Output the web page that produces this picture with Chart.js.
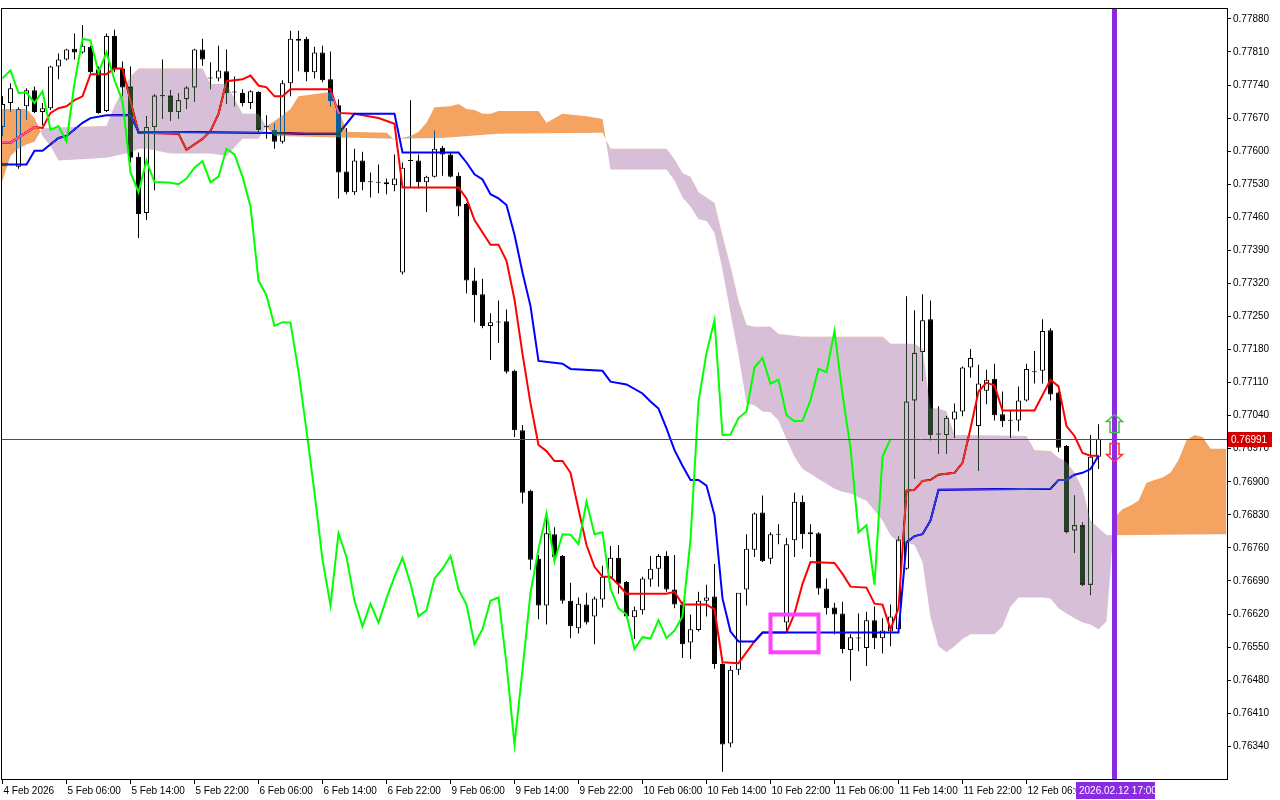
<!DOCTYPE html>
<html>
<head>
<meta charset="utf-8">
<title>H1 Ichimoku</title>
<script src="https://cdn.jsdelivr.net/npm/chart.js@4.4.1/dist/chart.umd.min.js"></script>
<style>
  html, body { margin: 0; padding: 0; background: #fff; }
  canvas { display: block; }
</style>
</head>
<body>
<canvas id="chart" width="1280" height="800"></canvas>
<script>
// H1 bars, 4 Feb 22:00 .. 12 Feb 15:00
const opens = [
  0.77651, 0.77702, 0.77567, 0.77695, 0.77729, 0.77683, 0.77691, 0.77779, 0.77794, 0.77817,
  0.77809, 0.77821, 0.77773, 0.77685, 0.77844, 0.77775, 0.77737, 0.77588, 0.77469, 0.77651,
  0.77718, 0.77718, 0.77683, 0.77710, 0.77735, 0.77815, 0.77756, 0.77754, 0.77769, 0.77725,
  0.77723, 0.77702, 0.77725, 0.77651, 0.77645, 0.77620, 0.77744, 0.77838, 0.77838, 0.77767,
  0.77809, 0.77752, 0.77697, 0.77557, 0.77513, 0.77580, 0.77536, 0.77534, 0.77534, 0.77528,
  0.77343, 0.77580, 0.77580, 0.77534, 0.77546, 0.77607, 0.77593, 0.77548, 0.77488, 0.77326,
  0.77297, 0.77230, 0.77238, 0.77240, 0.77135, 0.77009, 0.76881, 0.76737, 0.76638, 0.76789,
  0.76743, 0.76648, 0.76590, 0.76640, 0.76615, 0.76651, 0.76697, 0.76739, 0.76688, 0.76613,
  0.76628, 0.76693, 0.76716, 0.76743, 0.76672, 0.76640, 0.76560, 0.76586, 0.76648, 0.76657,
  0.76514, 0.76346, 0.76502, 0.76672, 0.76756, 0.76835, 0.76737, 0.76789, 0.76602, 0.76776,
  0.76858, 0.76789, 0.76791, 0.76674, 0.76634, 0.76621, 0.76544, 0.76569, 0.76548, 0.76607,
  0.76569, 0.76583, 0.76588, 0.76716, 0.77072, 0.77175, 0.77244, 0.77001, 0.76999, 0.77032,
  0.77049, 0.77142, 0.77018, 0.77093, 0.77118, 0.77043, 0.77030, 0.77030, 0.77072, 0.77133,
  0.77135, 0.77221, 0.77089, 0.76976, 0.76797, 0.76808, 0.76682, 0.76953
];
const highs = [
  0.77716, 0.77744, 0.77693, 0.77733, 0.77737, 0.77702, 0.77781, 0.77807, 0.77817, 0.77849,
  0.77867, 0.77823, 0.77779, 0.77849, 0.77857, 0.77790, 0.77779, 0.77597, 0.77674, 0.77721,
  0.77794, 0.77729, 0.77723, 0.77737, 0.77817, 0.77838, 0.77788, 0.77823, 0.77815, 0.77758,
  0.77731, 0.77729, 0.77727, 0.77676, 0.77658, 0.77750, 0.77855, 0.77855, 0.77842, 0.77821,
  0.77823, 0.77811, 0.77710, 0.77649, 0.77605, 0.77599, 0.77555, 0.77572, 0.77542, 0.77593,
  0.77576, 0.77708, 0.77593, 0.77548, 0.77643, 0.77611, 0.77597, 0.77555, 0.77490, 0.77353,
  0.77330, 0.77257, 0.77284, 0.77265, 0.77137, 0.77020, 0.76883, 0.76745, 0.76835, 0.76804,
  0.76745, 0.76686, 0.76655, 0.76665, 0.76657, 0.76722, 0.76764, 0.76766, 0.76690, 0.76636,
  0.76699, 0.76743, 0.76747, 0.76753, 0.76745, 0.76646, 0.76619, 0.76667, 0.76682, 0.76726,
  0.76516, 0.76510, 0.76655, 0.76789, 0.76835, 0.76871, 0.76793, 0.76810, 0.76781, 0.76877,
  0.76871, 0.76810, 0.76793, 0.76695, 0.76644, 0.76646, 0.76577, 0.76621, 0.76625, 0.76636,
  0.76611, 0.76640, 0.76785, 0.77293, 0.77263, 0.77297, 0.77284, 0.77060, 0.77039, 0.77066,
  0.77144, 0.77181, 0.77148, 0.77137, 0.77150, 0.77091, 0.77051, 0.77102, 0.77150, 0.77177,
  0.77244, 0.77225, 0.77091, 0.76978, 0.76871, 0.76814, 0.76999, 0.77022
];
const lows = [
  0.77632, 0.77683, 0.77563, 0.77666, 0.77681, 0.77655, 0.77687, 0.77752, 0.77792, 0.77794,
  0.77807, 0.77765, 0.77679, 0.77683, 0.77767, 0.77716, 0.77576, 0.77416, 0.77454, 0.77517,
  0.77668, 0.77664, 0.77668, 0.77689, 0.77704, 0.77781, 0.77731, 0.77748, 0.77700, 0.77695,
  0.77695, 0.77689, 0.77641, 0.77626, 0.77605, 0.77616, 0.77716, 0.77769, 0.77748, 0.77754,
  0.77746, 0.77695, 0.77500, 0.77509, 0.77507, 0.77517, 0.77502, 0.77511, 0.77509, 0.77515,
  0.77339, 0.77523, 0.77521, 0.77471, 0.77544, 0.77548, 0.77544, 0.77462, 0.77299, 0.77238,
  0.77225, 0.77158, 0.77194, 0.77129, 0.76995, 0.76854, 0.76714, 0.76609, 0.76598, 0.76726,
  0.76642, 0.76569, 0.76579, 0.76598, 0.76556, 0.76634, 0.76695, 0.76663, 0.76611, 0.76567,
  0.76619, 0.76678, 0.76678, 0.76667, 0.76632, 0.76527, 0.76525, 0.76583, 0.76615, 0.76504,
  0.76286, 0.76338, 0.76491, 0.76638, 0.76741, 0.76730, 0.76726, 0.76768, 0.76583, 0.76741,
  0.76758, 0.76741, 0.76661, 0.76619, 0.76577, 0.76537, 0.76479, 0.76541, 0.76510, 0.76546,
  0.76537, 0.76552, 0.76583, 0.76714, 0.76906, 0.77114, 0.76988, 0.76959, 0.76959, 0.76993,
  0.77039, 0.77120, 0.76923, 0.77064, 0.77030, 0.77016, 0.76993, 0.77007, 0.77070, 0.77108,
  0.77108, 0.77072, 0.76963, 0.76791, 0.76749, 0.76680, 0.76661, 0.76927
];
const closes = [
  0.77700, 0.77733, 0.77689, 0.77729, 0.77683, 0.77691, 0.77779, 0.77794, 0.77815, 0.77809,
  0.77823, 0.77767, 0.77681, 0.77844, 0.77773, 0.77735, 0.77586, 0.77467, 0.77651, 0.77718,
  0.77716, 0.77683, 0.77708, 0.77735, 0.77815, 0.77794, 0.77754, 0.77771, 0.77723, 0.77724,
  0.77702, 0.77727, 0.77645, 0.77653, 0.77620, 0.77744, 0.77838, 0.77834, 0.77767, 0.77809,
  0.77750, 0.77706, 0.77555, 0.77513, 0.77580, 0.77534, 0.77534, 0.77533, 0.77530, 0.77542,
  0.77565, 0.77579, 0.77534, 0.77546, 0.77605, 0.77593, 0.77546, 0.77483, 0.77326, 0.77295,
  0.77230, 0.77238, 0.77237, 0.77133, 0.77009, 0.76877, 0.76735, 0.76638, 0.76791, 0.76741,
  0.76648, 0.76594, 0.76642, 0.76602, 0.76653, 0.76699, 0.76739, 0.76684, 0.76615, 0.76628,
  0.76695, 0.76716, 0.76743, 0.76672, 0.76640, 0.76556, 0.76588, 0.76648, 0.76655, 0.76514,
  0.76344, 0.76502, 0.76665, 0.76758, 0.76833, 0.76732, 0.76789, 0.76788, 0.76768, 0.76858,
  0.76789, 0.76793, 0.76674, 0.76632, 0.76619, 0.76546, 0.76571, 0.76568, 0.76607, 0.76569,
  0.76585, 0.76615, 0.76778, 0.77070, 0.77173, 0.77242, 0.76999, 0.77000, 0.77035, 0.77049,
  0.77142, 0.77162, 0.77108, 0.77116, 0.77041, 0.77028, 0.77029, 0.77072, 0.77139, 0.77132,
  0.77219, 0.77085, 0.76972, 0.76793, 0.76808, 0.76682, 0.76953, 0.76991
];

// one label every 8 bars
const timeLabels = [
  '4 Feb 2026', '5 Feb 06:00', '5 Feb 14:00', '5 Feb 22:00', '6 Feb 06:00', '6 Feb 14:00',
  '6 Feb 22:00', '9 Feb 06:00', '9 Feb 14:00', '9 Feb 22:00', '10 Feb 06:00', '10 Feb 14:00',
  '10 Feb 22:00', '11 Feb 06:00', '11 Feb 14:00', '11 Feb 22:00', '12 Feb 06:00'
];
const priceTicks = [
  0.76340, 0.76410, 0.76480, 0.76550, 0.76620, 0.76690, 0.76760, 0.76830, 0.76900, 0.76970,
  0.77040, 0.77110, 0.77180, 0.77250, 0.77320, 0.77390, 0.77460, 0.77530, 0.77600, 0.77670,
  0.77740, 0.77810, 0.77880
];

// ichimoku lines: [bar index, price]
const tenkan = [
  [-1,0.77618],[1,0.77618],[4,0.77651],[5,0.77649],[6,0.77681],[7,0.77691],[8,0.77695],[9,0.77708],[10,0.77716],[11,0.77763],
  [13,0.77763],[14,0.77775],[15,0.77775],[16,0.77706],[17,0.77639],[22,0.77637],[23,0.77603],[25,0.77626],[26,0.77643],[27,0.77679],
  [28,0.77748],[30,0.77752],[31,0.77760],[32,0.77739],[33,0.77735],[34,0.77716],[35,0.77716],[36,0.77731],[41,0.77731],[42,0.77681],
  [44,0.77679],[47,0.77670],[49,0.77658],[50,0.77523],[57,0.77523],[58,0.77500],[59,0.77454],[61,0.77402],[62,0.77402],[63,0.77368],
  [64,0.77286],[65,0.77171],[66,0.77066],[67,0.76978],[68,0.76965],[69,0.76944],[70,0.76944],[71,0.76919],[72,0.76842],[73,0.76766],
  [74,0.76720],[75,0.76699],[76,0.76699],[77,0.76682],[78,0.76663],[83,0.76663],[84,0.76667],[85,0.76640],[88,0.76640],[89,0.76630],
  [90,0.76518],[92,0.76516],[94,0.76562],[95,0.76581],[98,0.76581],[99,0.76621],[100,0.76684],[101,0.76730],[104,0.76728],[105,0.76705],
  [106,0.76678],[108,0.76676],[109,0.76642],[110,0.76640],[111,0.76588],[112,0.76632],[113,0.76881],[114,0.76883],[115,0.76902],[116,0.76904],
  [117,0.76915],[119,0.76919],[120,0.76940],[121,0.77013],[122,0.77091],[123,0.77110],[124,0.77104],[125,0.77051],[129,0.77051],[131,0.77116],
  [132,0.77102],[133,0.77018],[134,0.76997],[135,0.76961],[136,0.76955],[137,0.76955]
];
const kijun = [
  [-1,0.77572],[3,0.77572],[4,0.77601],[5,0.77601],[7,0.77628],[8,0.77632],[10,0.77660],[11,0.77670],[13,0.77676],[16,0.77676],
  [17,0.77641],[32,0.77639],[38,0.77637],[42,0.77637],[44,0.77679],[49,0.77679],[50,0.77597],[57,0.77597],[58,0.77576],[59,0.77551],
  [60,0.77540],[61,0.77509],[62,0.77500],[63,0.77486],[64,0.77423],[65,0.77343],[66,0.77272],[67,0.77156],[70,0.77150],[71,0.77139],
  [75,0.77135],[76,0.77112],[78,0.77106],[80,0.77087],[81,0.77070],[82,0.77055],[83,0.77013],[84,0.76967],[85,0.76934],[86,0.76904],
  [87,0.76904],[88,0.76892],[89,0.76829],[90,0.76653],[91,0.76583],[92,0.76562],[94,0.76562],[95,0.76581],[112,0.76581],[113,0.76772],
  [114,0.76785],[115,0.76789],[116,0.76818],[117,0.76883],[131,0.76885],[132,0.76904],[133,0.76904],[134,0.76915],[135,0.76919],[136,0.76927],
  [137,0.76955]
];
const spanA = [
  [-1,0.77689],[3,0.77689],[4,0.77670],[5,0.77632],[6,0.77611],[7,0.77580],[13,0.77586],[16,0.77597],[17,0.77605],[18,0.77605],
  [21,0.77595],[26,0.77595],[28,0.77590],[30,0.77626],[32,0.77626],[33,0.77653],[34,0.77664],[35,0.77676],[36,0.77689],[37,0.77716],
  [41,0.77725],[42,0.77691],[43,0.77641],[48,0.77639],[49,0.77624],[51,0.77632],[52,0.77641],[53,0.77660],[54,0.77693],[56,0.77695],
  [57,0.77700],[58,0.77689],[59,0.77687],[60,0.77679],[61,0.77679],[62,0.77685],[67,0.77685],[68,0.77660],[70,0.77679],[73,0.77674],
  [75,0.77668],[76,0.77561],[83,0.77561],[84,0.77538],[85,0.77502],[86,0.77483],[87,0.77456],[88,0.77452],[89,0.77427],[90,0.77349],
  [91,0.77257],[92,0.77169],[93,0.77066],[94,0.77062],[95,0.77049],[96,0.77047],[97,0.77030],[98,0.76990],[99,0.76953],[100,0.76927],
  [101,0.76917],[102,0.76906],[103,0.76896],[104,0.76885],[105,0.76879],[106,0.76875],[107,0.76867],[108,0.76860],[109,0.76839],[110,0.76818],
  [111,0.76787],[112,0.76772],[113,0.76772],[114,0.76766],[115,0.76730],[116,0.76613],[117,0.76552],[118,0.76539],[119,0.76552],[120,0.76567],
  [121,0.76577],[124,0.76577],[125,0.76594],[126,0.76636],[127,0.76655],[130,0.76655],[131,0.76653],[132,0.76632],[133,0.76621],[134,0.76611],
  [135,0.76602],[136,0.76598],[137,0.76588],[138,0.76604],[139,0.76825],[140,0.76842],[141,0.76850],[142,0.76860],[143,0.76898],[144,0.76904],
  [145,0.76909],[146,0.76919],[147,0.76946],[148,0.76988],[149,0.76999],[150,0.76995],[151,0.76970],[153,0.76970]
];
const spanB = [
  [-1,0.77507],[0,0.77538],[1,0.77590],[2,0.77605],[3,0.77614],[4,0.77620],[5,0.77649],[13,0.77653],[14,0.77695],[15,0.77727],
  [16,0.77758],[17,0.77775],[25,0.77775],[26,0.77742],[28,0.77742],[30,0.77679],[32,0.77679],[33,0.77651],[34,0.77632],[49,0.77626],
  [55,0.77628],[62,0.77637],[75,0.77639],[76,0.77605],[83,0.77605],[84,0.77583],[85,0.77553],[86,0.77546],[87,0.77513],[88,0.77502],
  [89,0.77490],[90,0.77421],[91,0.77356],[92,0.77284],[93,0.77232],[94,0.77228],[96,0.77228],[97,0.77213],[100,0.77207],[110,0.77207],
  [111,0.77192],[114,0.77192],[115,0.77181],[116,0.77055],[117,0.77055],[118,0.77049],[119,0.76999],[128,0.76997],[129,0.76967],[131,0.76965],
  [132,0.76951],[133,0.76942],[134,0.76919],[135,0.76885],[136,0.76818],[137,0.76802],[138,0.76787],[153,0.76789]
];

const barsPerLabel = 8;
const marker = { index: 139, label: '2026.02.12 17:00' };
const box = { from: 96, to: 102, high: 0.76619, low: 0.76539 };

const idx = closes.map((_, i) => i);
const wickData = idx.map(i => ({ x: i, y: [lows[i], highs[i]] }));
const bodyData = idx.map(i => ({ x: i, y: [opens[i], closes[i]] }));
const bodyFill = idx.map(i => (closes[i] >= opens[i] ? '#ffffff' : '#000000'));
// chikou = close plotted 26 bars back
const chikou = closes.slice(26).map((c, j) => [j, c]);

const SPAN_B = 4, SPAN_A = 5;
const axisFont = { family: 'Liberation Sans', size: 10 };

const paper = {
  id: 'paper',
  beforeDraw(chart) {
    const ctx = chart.ctx;
    ctx.save();
    ctx.fillStyle = '#ffffff';
    ctx.fillRect(0, 0, chart.width, chart.height);
    ctx.restore();
  }
};

// the terminal paints the kumo inverted over what is already there
const kumoBlend = {
  id: 'kumoBlend',
  afterDatasetDraw(chart, args) {
    if (args.index === SPAN_B) chart.ctx.globalCompositeOperation = 'difference';
    if (args.index === SPAN_A) chart.ctx.globalCompositeOperation = 'source-over';
  }
};

function arrowPath(ctx, cx, tipY, baseY, endY, hw, sw) {
  ctx.beginPath();
  ctx.moveTo(cx, tipY);
  ctx.lineTo(cx + hw, baseY);
  ctx.lineTo(cx + sw, baseY);
  ctx.lineTo(cx + sw, endY);
  ctx.lineTo(cx - sw, endY);
  ctx.lineTo(cx - sw, baseY);
  ctx.lineTo(cx - hw, baseY);
  ctx.closePath();
}

const overlay = {
  id: 'overlay',
  afterDraw(chart) {
    const { ctx, chartArea: a, scales: { x, y } } = chart;
    const last = closes[closes.length - 1];
    const py = Math.round(y.getPixelForValue(last)) + 0.5;
    const mx = x.getPixelForValue(marker.index);

    ctx.save();
    ctx.beginPath();
    ctx.rect(a.left, a.top, a.right - a.left, a.bottom - a.top);
    ctx.clip();

    // bid line
    ctx.strokeStyle = 'rgb(170,40,40)';
    ctx.lineWidth = 1;
    ctx.beginPath();
    ctx.moveTo(a.left, py);
    ctx.lineTo(a.right, py);
    ctx.stroke();

    // rectangle object
    const bx0 = x.getPixelForValue(box.from), bx1 = x.getPixelForValue(box.to);
    const by0 = y.getPixelForValue(box.high), by1 = y.getPixelForValue(box.low);
    ctx.strokeStyle = '#ff40ff';
    ctx.lineWidth = 4;
    ctx.strokeRect(bx0, by0, bx1 - bx0, by1 - by0);

    // vertical line
    ctx.fillStyle = '#8a2be2';
    ctx.fillRect(Math.floor(mx) - 2, a.top, 5, a.bottom - a.top);

    // buy / sell arrows
    ctx.lineWidth = 1.5;
    arrowPath(ctx, mx, py - 25, py - 18, py - 7, 8, 4.5);
    ctx.strokeStyle = '#40c040';
    ctx.stroke();
    arrowPath(ctx, mx, py + 22, py + 15, py + 4, 8, 4.5);
    ctx.strokeStyle = '#ff3030';
    ctx.stroke();
    ctx.restore();

    // frame
    ctx.save();
    ctx.strokeStyle = '#000';
    ctx.lineWidth = 1;
    ctx.strokeRect(a.left + 0.5, a.top + 0.5, a.right - a.left, a.bottom - a.top);

    // price tag
    ctx.font = '10px "Liberation Sans"';
    ctx.textBaseline = 'middle';
    ctx.fillStyle = '#d00000';
    ctx.fillRect(a.right + 1, py - 7.5, 44, 15);
    ctx.fillStyle = '#ffffff';
    ctx.fillText(last.toFixed(5), a.right + 4, py + 0.5);

    // time tag
    ctx.fillStyle = '#8a2be2';
    ctx.fillRect(Math.floor(mx) - 38, a.bottom + 3, 79, 17);
    ctx.fillStyle = '#ffffff';
    ctx.fillText(marker.label, Math.floor(mx) - 35, a.bottom + 12);
    ctx.restore();
  }
};

new Chart(document.getElementById('chart'), {
  data: {
    datasets: [
      { type: 'bar', label: 'wick', data: wickData, backgroundColor: '#000000', borderWidth: 0,
        barThickness: 1, grouped: false, inflateAmount: 0, order: 7 },
      { type: 'bar', label: 'body', data: bodyData, backgroundColor: bodyFill, borderColor: '#000000',
        borderWidth: 1, borderSkipped: false, barThickness: 5, minBarLength: 1, grouped: false,
        inflateAmount: 0, order: 6 },
      { type: 'line', label: 'Tenkan-sen', data: tenkan, borderColor: '#ff0000', borderWidth: 2,
        pointRadius: 0, tension: 0, fill: false, order: 5 },
      { type: 'line', label: 'Kijun-sen', data: kijun, borderColor: '#0000ff', borderWidth: 2,
        pointRadius: 0, tension: 0, fill: false, order: 4 },
      { type: 'line', label: 'Senkou Span B', data: spanB, borderColor: 'rgba(0,0,0,0)', borderWidth: 1,
        pointRadius: 0, tension: 0, fill: false, order: 3 },
      { type: 'line', label: 'Senkou Span A', data: spanA, borderColor: 'rgba(0,0,0,0)', borderWidth: 1,
        pointRadius: 0, tension: 0, order: 2,
        // inverted SandyBrown / Thistle, see kumoBlend
        fill: { target: SPAN_B, above: 'rgb(11,91,159)', below: 'rgb(39,64,39)' } },
      { type: 'line', label: 'Chikou Span', data: chikou, borderColor: '#00ff00', borderWidth: 2,
        pointRadius: 0, tension: 0, fill: false, order: 1 }
    ]
  },
  options: {
    responsive: false,
    devicePixelRatio: 1,
    animation: false,
    events: [],
    layout: { padding: { top: 1, left: 1, right: 0, bottom: 0 } },
    plugins: { legend: { display: false }, tooltip: { enabled: false } },
    scales: {
      x: {
        type: 'linear', position: 'bottom', offset: false,
        min: -0.1875, max: 153.0625,
        grid: { drawOnChartArea: false, drawTicks: true, tickLength: 5, color: '#000', offset: false },
        border: { display: true, color: '#000' },
        ticks: {
          autoSkip: false, maxRotation: 0, minRotation: 0, align: 'start', labelOffset: 1, padding: 1,
          color: '#000', font: axisFont,
          callback: (v, k) => timeLabels[k]
        },
        afterBuildTicks: s => { s.ticks = timeLabels.map((_, k) => ({ value: k * barsPerLabel })); },
        afterFit: s => { s.height = 21; }
      },
      y: {
        type: 'linear', position: 'right', beginAtZero: false,
        min: 0.76270758, max: 0.77903079,
        grid: { drawOnChartArea: false, drawTicks: true, tickLength: 4, color: '#000' },
        border: { display: true, color: '#000' },
        ticks: { color: '#000', font: axisFont, padding: 2, callback: v => v.toFixed(5) },
        afterBuildTicks: s => { s.ticks = priceTicks.map(v => ({ value: v })); },
        afterFit: s => { s.width = 53; }
      }
    }
  },
  plugins: [paper, kumoBlend, overlay]
});
</script>
</body>
